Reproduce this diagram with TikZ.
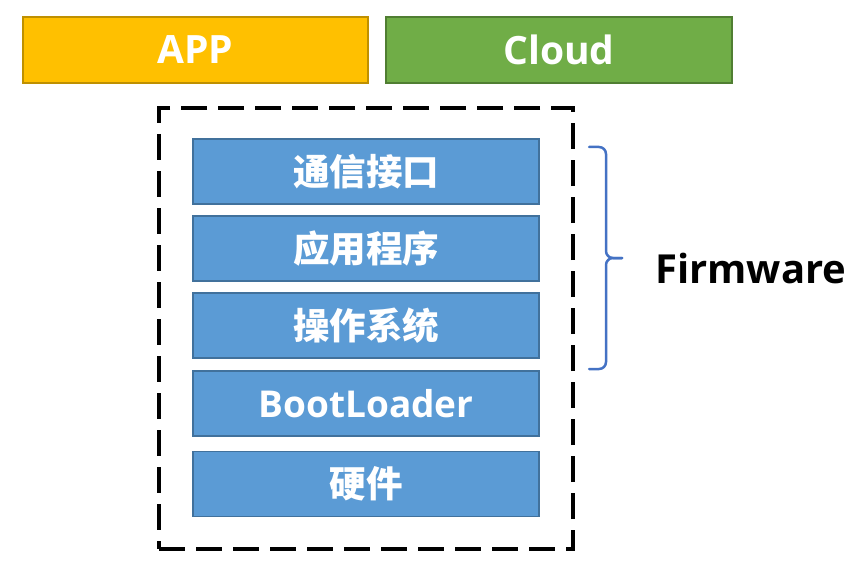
\documentclass[tikz,border=0pt]{standalone}
\usepackage{fontspec}
\setmainfont{Open Sans}
\newfontfamily\cjk{Noto Sans CJK SC}
\definecolor{appfill}{HTML}{FFC000}
\definecolor{appline}{HTML}{BF9000}
\definecolor{cloudfill}{HTML}{70AD47}
\definecolor{cloudline}{HTML}{507E32}
\definecolor{layerfill}{HTML}{5B9BD5}
\definecolor{layerline}{HTML}{41719C}
\definecolor{bracecol}{HTML}{4472C4}
\begin{document}
\begin{tikzpicture}[x=1pt,y=-1pt,
  topbox/.style={draw, line width=1.5pt, minimum width=345pt, minimum height=66pt,
    inner sep=0pt, text=white, font=\fontsize{39}{42}\selectfont\bfseries},
  layer/.style={draw=layerline, fill=layerfill, line width=1.5pt, minimum width=346pt,
    minimum height=65pt, inner sep=0pt, text=white},
  latin/.style={font=\fontsize{37}{40}\selectfont\bfseries},
  han/.style={font=\fontsize{36.5}{40}\selectfont\cjk\bfseries},
  fwbox/.style={draw=black, line width=3.2pt, dash pattern=on 26pt off 11pt,
    minimum width=414pt, minimum height=441pt, inner sep=0pt},
  bracestyle/.style={draw=bracecol, line width=2.5pt}]
\useasboundingbox (0,0) rectangle (866,564);
\node[topbox, draw=appline, fill=appfill] (app) at (195.5,50) {APP};
\node[topbox, draw=cloudline, fill=cloudfill, minimum width=346pt] (cloud) at (559,50) {Cloud};
\node[fwbox] (fw) at (366,328.5) {};
\node[layer, han] (comm) at (366,171.5) {通信接口};
\node[layer, han] (appl) at (366,248.5) {应用程序};
\node[layer, han] (os) at (366,325.5) {操作系统};
\node[layer, latin] (boot) at (366,403.5) {BootLoader};
\node[layer, han] (hw) at (366,484) {硬件};
\coordinate (bt) at (589,147);
\coordinate (bb) at (589,369);
\coordinate (tip) at (622,258);
\draw[bracestyle, line cap=round] (bt) -- (599,147) to[out=0,in=90] (606,154) -- (606,251)
  to[out=-90,in=180] (613,258) -- (tip);
\draw[bracestyle, line cap=round] (bb) -- (599,369) to[out=0,in=-90] (606,362) -- (606,265)
  to[out=90,in=180] (613,258) -- (tip);
\node[anchor=west, inner sep=0pt, font=\fontsize{40}{44}\selectfont\bfseries] (firm) at (655,268) {Firmware};
\end{tikzpicture}
\end{document}
